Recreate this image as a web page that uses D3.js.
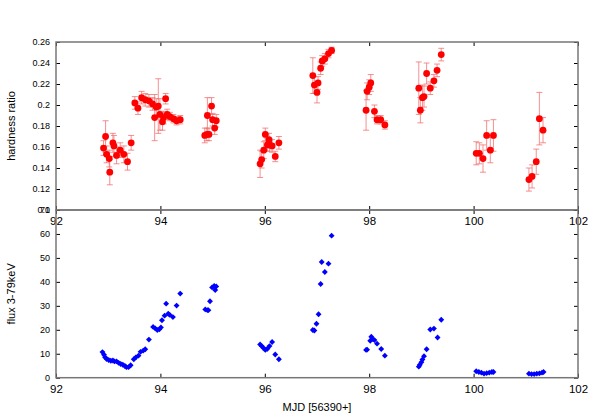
<!DOCTYPE html>
<html><head><meta charset="utf-8">
<script src="https://cdn.jsdelivr.net/npm/d3@7"></script>
<style>body{margin:0;background:#fff}svg{display:block}text{font-family:"Liberation Sans",Arial,sans-serif}</style>
</head><body><svg id="c" width="600" height="420"></svg>
<script>
// hardness ratio
const hrMjd = [92.91,92.95,92.97,93.02,93.03,93.09,93.11,93.16,93.23,93.30,93.37,93.44,
  93.51,93.57,93.64,93.71,93.78,93.85,93.89,93.92,93.96,93.99,94.04,94.06,94.10,94.13,94.18,94.25,94.31,94.38,
  94.85,94.89,94.90,94.93,94.98,95.00,95.04,95.07,
  95.91,95.94,95.98,96.01,96.05,96.08,96.09,96.14,96.20,96.27,
  96.92,96.95,97.00,97.02,97.07,97.10,97.15,97.22,97.28,
  97.94,97.96,98.00,98.03,98.10,98.15,98.22,98.30,
  98.95,98.98,99.02,99.05,99.10,99.17,99.24,99.30,99.38,
  100.05,100.11,100.18,100.25,100.32,100.38,
  101.06,101.12,101.20,101.26,101.33];
const hrVal = [0.159,0.170,0.153,0.149,0.136,0.164,0.161,0.152,0.157,0.153,0.146,0.164,
  0.202,0.197,0.207,0.205,0.204,0.201,0.188,0.198,0.199,0.191,0.184,0.188,0.206,0.191,0.189,0.187,0.185,0.186,
  0.171,0.172,0.190,0.172,0.199,0.186,0.178,0.185,
  0.144,0.148,0.157,0.172,0.162,0.167,0.162,0.161,0.151,0.164,
  0.228,0.219,0.212,0.221,0.235,0.242,0.244,0.249,0.252,
  0.195,0.213,0.217,0.221,0.194,0.186,0.186,0.181,
  0.216,0.195,0.207,0.208,0.230,0.216,0.223,0.233,0.248,
  0.154,0.154,0.149,0.171,0.157,0.171,
  0.129,0.132,0.146,0.187,0.176];
const hrErr = [0.007,0.015,0.008,0.008,0.012,0.009,0.010,0.008,0.007,0.008,0.008,0.007,
  0.006,0.006,0.006,0.006,0.006,0.006,0.022,0.008,0.026,0.015,0.008,0.006,0.005,0.005,0.004,0.004,0.004,0.004,
  0.007,0.006,0.017,0.006,0.008,0.006,0.006,0.006,
  0.013,0.008,0.008,0.006,0.006,0.006,0.006,0.006,0.005,0.006,
  0.017,0.008,0.010,0.006,0.006,0.005,0.005,0.004,0.003,
  0.019,0.008,0.007,0.008,0.006,0.004,0.004,0.004,
  0.025,0.012,0.012,0.010,0.010,0.006,0.006,0.006,0.006,
  0.011,0.010,0.013,0.014,0.012,0.015,
  0.011,0.011,0.012,0.025,0.012];
// flux 3-79 keV
const fluxMjd = [92.89,92.92,92.94,92.97,93.01,93.05,93.09,93.12,93.16,93.20,93.24,93.28,93.32,93.35,93.39,93.43,
  93.49,93.53,93.58,93.62,93.67,93.71,93.78,93.86,93.90,93.94,93.98,94.01,94.03,94.08,94.11,94.15,94.18,94.24,94.31,94.38,
  94.86,94.90,94.92,94.95,94.99,95.03,95.05,95.07,
  95.91,95.94,95.97,96.01,96.05,96.09,96.14,96.20,96.27,
  96.92,96.95,96.99,97.03,97.07,97.09,97.15,97.22,97.28,
  97.94,97.96,98.02,98.04,98.07,98.10,98.15,98.23,98.30,
  98.95,98.97,99.00,99.02,99.05,99.10,99.17,99.24,99.31,99.38,
  100.05,100.10,100.15,100.20,100.25,100.30,100.35,100.38,
  101.06,101.11,101.16,101.21,101.26,101.31,101.34];
const fluxVal = [10.7,9.6,8.5,7.8,7.4,7.1,7.2,6.8,6.8,6.2,5.7,5.4,4.9,4.4,4.4,5.2,
  7.7,8.5,9.2,10.8,11.3,11.9,15.9,21.2,20.6,19.9,20.2,21.0,24.0,25.9,30.9,26.7,26.2,25.3,30.1,35.1,
  28.5,28.2,28.2,31.9,37.7,38.3,36.6,38.1,
  13.9,13.2,12.5,11.6,12.1,13.2,14.9,9.7,7.7,
  19.9,19.7,22.5,26.5,39.1,48.3,44.1,47.6,59.3,
  11.6,11.7,15.4,17.1,16.1,15.7,14.2,12.0,9.2,
  4.6,5.4,6.5,7.6,9.0,11.9,20.1,20.5,16.8,24.2,
  2.7,2.4,2.1,1.7,1.9,2.1,2.4,2.4,
  1.7,1.5,1.5,1.7,1.8,2.1,2.4];
const xTicks = [92,94,96,98,100,102];
const hrTicks = [0.1,0.12,0.14,0.16,0.18,0.2,0.22,0.24,0.26];
const fluxTicks = [0,10,20,30,40,50,60,70];

const svg = d3.select("#c");
const L = 56, R = 578, T1 = 42, B1 = 210, B2 = 377.7;
const x = d3.scaleLinear().domain([92,102]).range([L,R]);
const yH = d3.scaleLinear().domain([0.1,0.26]).range([B1,T1]);
const yF = d3.scaleLinear().domain([0,70]).range([B2,B1]);
const frame = "#777";

function styleAxis(g, fs){
  g.select(".domain").remove();
  g.selectAll(".tick line").attr("stroke","#000").attr("stroke-width",1);
  g.selectAll(".tick text").attr("font-size",fs).attr("fill","#000")
   .attr("font-family","Liberation Sans, Arial, sans-serif");
}
function panel(y, top, bottom, yticks, yfmt){
  svg.append("g").attr("transform",`translate(${L},0)`)
    .call(d3.axisLeft(y).tickValues(yticks).tickSize(-4).tickPadding(6).tickFormat(yfmt))
    .call(g=>styleAxis(g,9));
  svg.append("g").attr("transform",`translate(${R},0)`)
    .call(d3.axisRight(y).tickValues(yticks).tickSize(-4).tickFormat(""))
    .call(g=>styleAxis(g,9));
  svg.append("g").attr("transform",`translate(0,${bottom})`)
    .call(d3.axisBottom(x).tickValues(xTicks).tickSize(-4).tickPadding(7).tickFormat(d3.format("d")))
    .call(g=>styleAxis(g,11.5));
  svg.append("g").attr("transform",`translate(0,${top})`)
    .call(d3.axisTop(x).tickValues(xTicks).tickSize(-4).tickFormat(""))
    .call(g=>styleAxis(g,11.5));
  svg.append("rect").attr("x",L).attr("y",top).attr("width",R-L).attr("height",bottom-top)
    .attr("fill","none").attr("stroke",frame).attr("stroke-width",1.5);
}
panel(yH, T1, B1, hrTicks, d=>String(+d.toFixed(2)));
panel(yF, B1, B2, fluxTicks, d3.format("d"));

// error bars
const eb = svg.append("g").attr("stroke","#f26b6b").attr("stroke-opacity",0.75).attr("stroke-width",1);
hrMjd.forEach((m,i)=>{
  const cx = x(m), y0 = yH(hrVal[i]-hrErr[i]), y1 = yH(hrVal[i]+hrErr[i]);
  eb.append("line").attr("x1",cx).attr("x2",cx).attr("y1",y0).attr("y2",y1);
  eb.append("line").attr("x1",cx-3).attr("x2",cx+3).attr("y1",y0).attr("y2",y0);
  eb.append("line").attr("x1",cx-3).attr("x2",cx+3).attr("y1",y1).attr("y2",y1);
});
svg.append("g").selectAll("circle").data(hrMjd).join("circle")
  .attr("cx",d=>x(d)).attr("cy",(d,i)=>yH(hrVal[i])).attr("r",3.4).attr("fill","#ff0000");

svg.append("g").selectAll("path").data(fluxMjd).join("path")
  .attr("d",d3.symbol().type(d3.symbolDiamond2).size(22))
  .attr("transform",(d,i)=>`translate(${x(d)},${yF(fluxVal[i])})`)
  .attr("fill","#0000ff");

// axis titles
svg.append("text").attr("transform",`translate(15,${(T1+B1)/2}) rotate(-90)`)
  .attr("text-anchor","middle").attr("font-size",11).text("hardness ratio");
svg.append("text").attr("transform",`translate(15,${(B1+B2)/2}) rotate(-90)`)
  .attr("text-anchor","middle").attr("font-size",11).text("flux 3-79keV");
svg.append("text").attr("x",(L+R)/2).attr("y",411)
  .attr("text-anchor","middle").attr("font-size",11).text("MJD [56390+]");
</script></body></html>
